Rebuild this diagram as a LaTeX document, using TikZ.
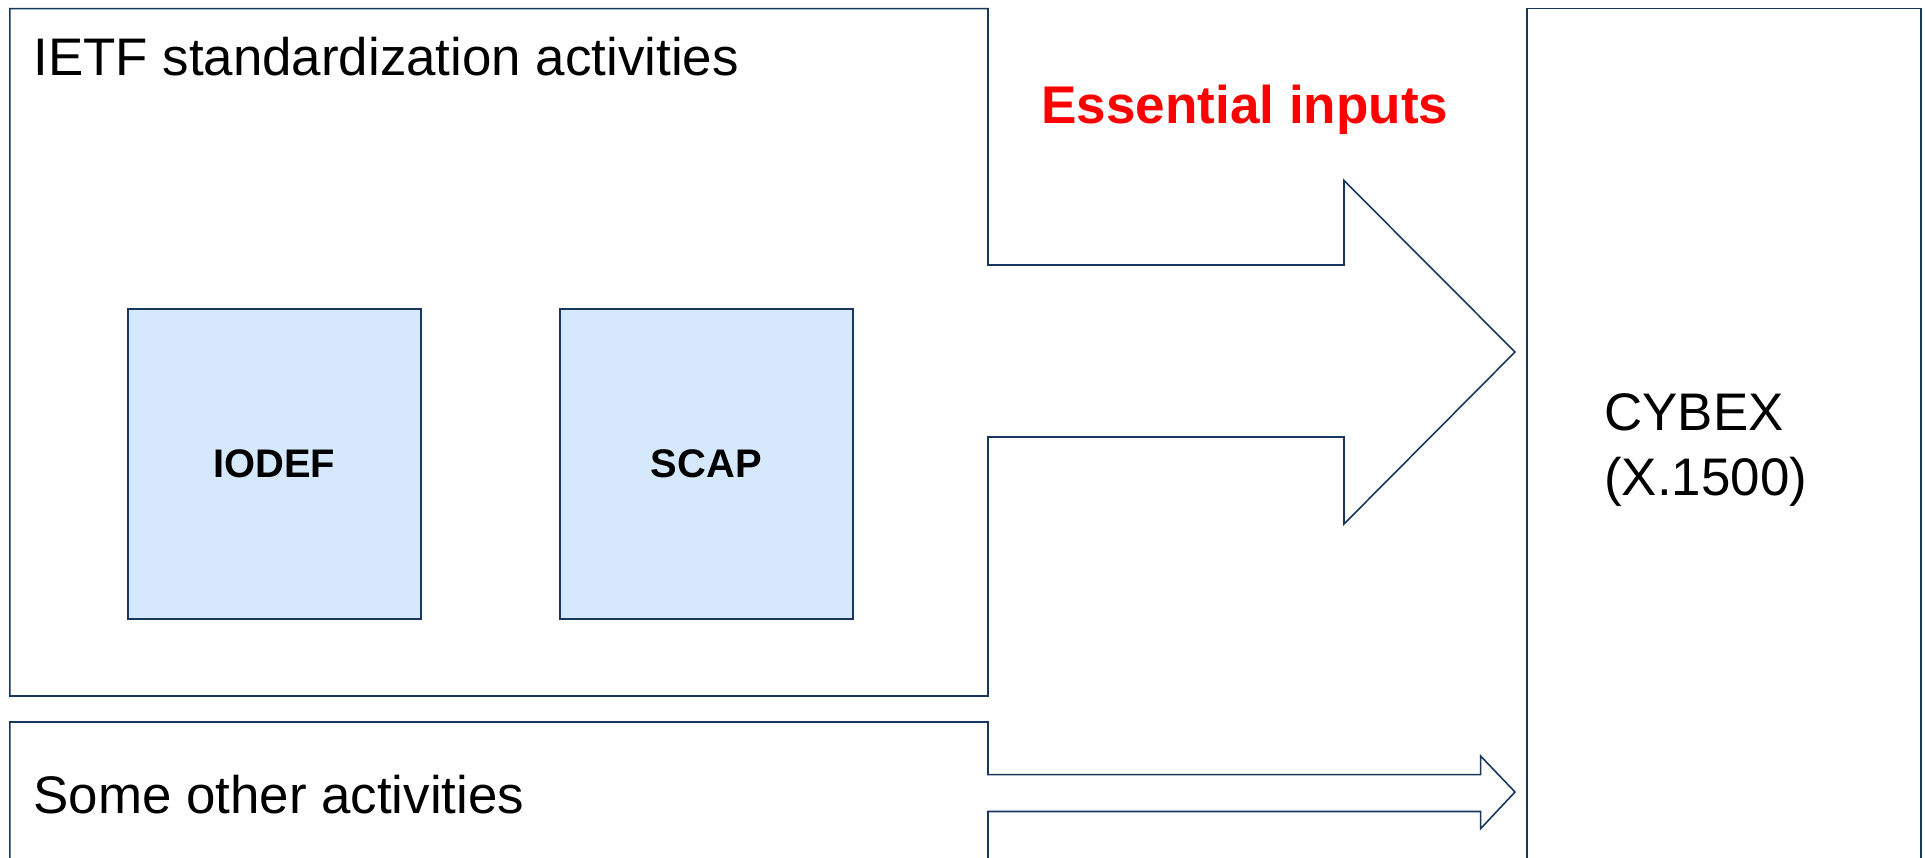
\documentclass[tikz,border=0pt]{standalone}
\usepackage{fontspec}
\setmainfont{Liberation Sans}
\usetikzlibrary{positioning}
\definecolor{edgeblue}{RGB}{23,55,94}
\definecolor{stdfill}{RGB}{214,232,252}

\tikzset{
  outline/.style={draw=edgeblue, line width=0.9pt, line join=miter},
  stdbox/.style={outline, fill=stdfill, minimum width=5.86cm, minimum height=6.2cm,
    font=\fontsize{22.7}{27}\selectfont\bfseries},
  bigtext/.style={anchor=base west, inner sep=0pt, font=\fontsize{30.1}{36}\selectfont}
}

\begin{document}
\begin{tikzpicture}[x=0.02cm, y=-0.02cm]
\useasboundingbox (0,0) rectangle (1925,858);

% IETF box with the big arrow
\draw[outline] (9.8,8.6) -- (988,8.6) -- (988,265) -- (1344,265) -- (1344,180.5)
  -- (1515,352) -- (1344,524) -- (1344,437) -- (988,437) -- (988,696)
  -- (9.8,696) -- cycle;
% other activities with the small arrow
\draw[outline] (9.8,870) -- (9.8,722) -- (988,722) -- (988,774.7) -- (1480.6,774.7)
  -- (1480.6,756) -- (1515,792) -- (1480.6,828.7) -- (1480.6,811.5) -- (988,811.5)
  -- (988,870);
% CYBEX
\draw[outline] (1527,8.6) rectangle (1921,870);

\node[bigtext] (ietf) at (33,76) {IETF standardization activities};
\node[bigtext] (other) at (33,813) {Some other activities};
\node[bigtext, text=red, font=\fontsize{30.2}{36}\selectfont\bfseries] (essential) at (1041,124) {Essential inputs};
\node[bigtext] (cybex) at (1604,430) {CYBEX};
\node[bigtext] (xref) at (1604,495) {(X.1500)};

\node[stdbox] (iodef) at (274.4,464) {IODEF};
\node[stdbox, right=2.75cm of iodef] (scap) {SCAP};
\end{tikzpicture}
\end{document}
